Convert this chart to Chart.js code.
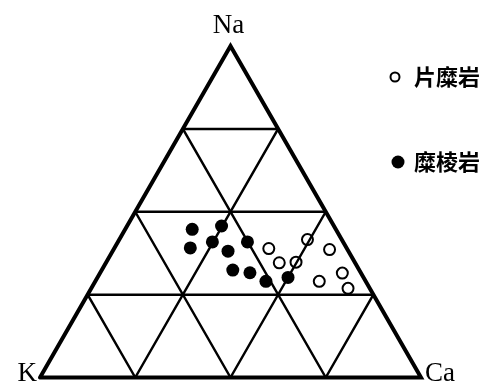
<!DOCTYPE html>
<html>
<head>
<meta charset="utf-8">
<script src="https://cdn.jsdelivr.net/npm/chart.js@4"></script>
<style>
  body { margin: 0; background: #fff; }
</style>
</head>
<body>
<canvas id="ternario" width="497" height="385"></canvas>
<script>
// composición en % (Na, Ca); K = 100 - Na - Ca
const vertices = ['Na', 'K', 'Ca'];
const series = ['片糜岩', '糜棱岩'];
const gridLevels = [25, 50, 75];
const pianNa = [38.9, 41.6, 34.6, 34.8, 38.6, 29.0, 31.5, 26.9];
const pianCa = [40.6, 49.4, 45.5, 49.8, 56.7, 58.8, 63.6, 67.4];
const milNa = [44.7, 45.7, 39.1, 40.9, 40.9, 38.1, 32.4, 31.6, 29.0, 30.2];
const milCa = [17.6, 24.8, 19.9, 24.8, 34.0, 30.3, 34.4, 39.3, 44.8, 50.0];

// paso de ternario a coordenadas del plano
const toXY = (na, ca) => ({ x: (ca + na / 2) / 100, y: na / 100 });

const lineSet = (pts, width) => ({
    type: 'line',
    data: pts,
    borderColor: '#000',
    borderWidth: width,
    pointRadius: 0,
    fill: false,
    tension: 0,
    clip: false,
    borderCapStyle: 'round',
    borderJoinStyle: 'miter',
});

const datasets = [];
// rejilla interna
gridLevels.forEach((f) => {
    datasets.push(lineSet([toXY(f, 0), toXY(f, 100 - f)], 2.5));
    datasets.push(lineSet([toXY(0, f), toXY(100 - f, f)], 2.5));
    datasets.push(lineSet([toXY(0, 100 - f), toXY(100 - f, 0)], 2.5));
});
// contorno del triángulo
datasets.push(lineSet([toXY(0, 0), toXY(0, 100), toXY(100, 0), toXY(0, 0)], 4));

datasets.push({
    type: 'scatter',
    label: series[0],
    data: pianNa.map((na, i) => toXY(na, pianCa[i])),
    pointRadius: 5.5,
    pointBorderWidth: 2,
    pointBorderColor: '#000',
    pointBackgroundColor: '#fff',
    clip: false,
});
datasets.push({
    type: 'scatter',
    label: series[1],
    data: milNa.map((na, i) => toXY(na, milCa[i])),
    pointRadius: 6.5,
    pointBorderWidth: 0,
    pointBackgroundColor: '#000',
    clip: false,
});

const etiquetas = {
    id: 'etiquetas',
    afterDraw(chart) {
        const { ctx, scales } = chart;
        const px = (p) => [scales.x.getPixelForValue(p.x), scales.y.getPixelForValue(p.y)];
        ctx.save();
        ctx.fillStyle = '#000';
        ctx.font = '27px "Liberation Serif", "Times New Roman", serif';
        ctx.textBaseline = 'alphabetic';
        let [ax, ay] = px(toXY(100, 0));
        ctx.textAlign = 'center';
        ctx.fillText(vertices[0], ax - 2, ay - 13);
        let [kx, ky] = px(toXY(0, 0));
        ctx.textAlign = 'right';
        ctx.fillText(vertices[1], kx - 3, ky + 3);
        let [cx, cy] = px(toXY(0, 100));
        ctx.textAlign = 'left';
        ctx.fillText(vertices[2], cx + 4, cy + 3);

        // leyenda
        ctx.font = 'bold 22px "Noto Sans CJK SC", sans-serif';
        ctx.textBaseline = 'middle';
        ctx.lineWidth = 2;
        ctx.strokeStyle = '#000';
        ctx.beginPath();
        ctx.arc(395, 77, 4.5, 0, Math.PI * 2);
        ctx.stroke();
        ctx.fillText(series[0], 414, 77);
        ctx.beginPath();
        ctx.arc(398, 162, 6.5, 0, Math.PI * 2);
        ctx.fill();
        ctx.fillText(series[1], 414, 162);
        ctx.restore();
    },
};

new Chart(document.getElementById('ternario'), {
    data: { datasets },
    options: {
        responsive: false,
        animation: false,
        devicePixelRatio: 1,
        layout: { padding: { left: 40, right: 76, top: 46, bottom: 5 } },
        scales: {
            x: { type: 'linear', min: 0, max: 1, display: false },
            y: { type: 'linear', min: 0, max: 1, display: false },
        },
        plugins: {
            legend: { display: false },
            tooltip: { enabled: false },
        },
    },
    plugins: [etiquetas],
});
</script>
</body>
</html>
